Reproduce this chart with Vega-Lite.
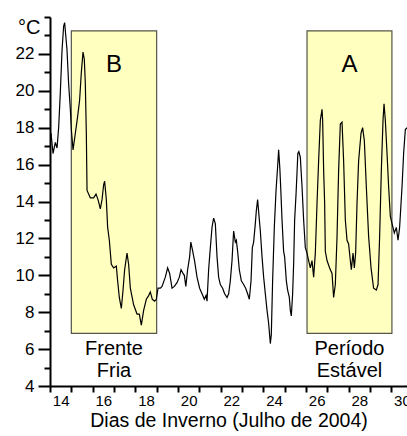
{
  "$schema": "https://vega.github.io/schema/vega-lite/v6.json",
  "width": 357,
  "height": 369,
  "autosize": "none",
  "padding": {"left": 50, "top": 17, "right": 0, "bottom": 50},
  "background": "white",
  "config": {
    "view": {"stroke": null},
    "font": "Liberation Sans",
    "axis": {
      "domainColor": "black",
      "domainWidth": 2,
      "tickColor": "black",
      "tickWidth": 2,
      "grid": false,
      "labelColor": "black",
      "labelFont": "Liberation Sans",
      "titleFont": "Liberation Sans",
      "titleColor": "black",
      "titleFontWeight": "normal"
    }
  },
  "datasets": {
    "boxes": [
      {"box": "B", "day": 14.5, "day_end": 18.5, "temp": 6.85, "temp_end": 23.25},
      {"box": "A", "day": 25.55, "day_end": 29.53, "temp": 6.85, "temp_end": 23.25}
    ],
    "temps": [
      {"day": 13.548, "temp": 17.7}, {"day": 13.642, "temp": 16.6}, {"day": 13.75, "temp": 17.2},
      {"day": 13.83, "temp": 16.9}, {"day": 13.905, "temp": 18.0}, {"day": 13.984, "temp": 19.9},
      {"day": 14.064, "temp": 22.2}, {"day": 14.139, "temp": 23.5}, {"day": 14.186, "temp": 23.7},
      {"day": 14.298, "temp": 22.2}, {"day": 14.373, "temp": 20.4}, {"day": 14.453, "temp": 19.0},
      {"day": 14.5, "temp": 17.9}, {"day": 14.58, "temp": 16.8}, {"day": 14.688, "temp": 17.7},
      {"day": 14.795, "temp": 18.6}, {"day": 14.889, "temp": 19.5}, {"day": 14.969, "temp": 21.0},
      {"day": 15.048, "temp": 22.1}, {"day": 15.109, "temp": 21.7}, {"day": 15.156, "temp": 20.4},
      {"day": 15.203, "temp": 17.7}, {"day": 15.236, "temp": 14.6}, {"day": 15.391, "temp": 14.2},
      {"day": 15.545, "temp": 14.2}, {"day": 15.658, "temp": 14.4}, {"day": 15.752, "temp": 14.1},
      {"day": 15.86, "temp": 13.6}, {"day": 15.939, "temp": 14.1}, {"day": 16.014, "temp": 14.9},
      {"day": 16.061, "temp": 15.1}, {"day": 16.141, "temp": 14.1}, {"day": 16.202, "temp": 12.6},
      {"day": 16.282, "temp": 11.9}, {"day": 16.375, "temp": 10.6}, {"day": 16.483, "temp": 10.4},
      {"day": 16.61, "temp": 10.5}, {"day": 16.671, "temp": 9.7}, {"day": 16.75, "temp": 8.8},
      {"day": 16.844, "temp": 8.2}, {"day": 16.924, "temp": 9.2}, {"day": 16.999, "temp": 10.3},
      {"day": 17.111, "temp": 11.2}, {"day": 17.186, "temp": 10.6}, {"day": 17.266, "temp": 9.3},
      {"day": 17.421, "temp": 8.4}, {"day": 17.58, "temp": 7.9}, {"day": 17.688, "temp": 7.9},
      {"day": 17.782, "temp": 7.3}, {"day": 17.89, "temp": 8.1}, {"day": 18.016, "temp": 8.7},
      {"day": 18.124, "temp": 8.9}, {"day": 18.204, "temp": 9.1}, {"day": 18.298, "temp": 8.7},
      {"day": 18.405, "temp": 8.6}, {"day": 18.485, "temp": 8.7}, {"day": 18.565, "temp": 9.3},
      {"day": 18.673, "temp": 9.3}, {"day": 18.752, "temp": 9.4}, {"day": 18.907, "temp": 9.9},
      {"day": 19.015, "temp": 10.4}, {"day": 19.109, "temp": 10.1}, {"day": 19.221, "temp": 9.3},
      {"day": 19.329, "temp": 9.4}, {"day": 19.455, "temp": 9.6}, {"day": 19.563, "temp": 9.9},
      {"day": 19.643, "temp": 10.3}, {"day": 19.737, "temp": 10.1}, {"day": 19.798, "temp": 10.0},
      {"day": 19.868, "temp": 9.4}, {"day": 19.952, "temp": 10.3}, {"day": 20.046, "temp": 11.0},
      {"day": 20.102, "temp": 11.8}, {"day": 20.173, "temp": 11.4}, {"day": 20.276, "temp": 10.8},
      {"day": 20.393, "temp": 9.9}, {"day": 20.515, "temp": 9.3}, {"day": 20.628, "temp": 9.0},
      {"day": 20.735, "temp": 8.7}, {"day": 20.815, "temp": 8.9}, {"day": 20.862, "temp": 8.6},
      {"day": 20.937, "temp": 10.3}, {"day": 21.017, "temp": 11.5}, {"day": 21.096, "temp": 12.6},
      {"day": 21.171, "temp": 13.1}, {"day": 21.251, "temp": 12.8}, {"day": 21.331, "temp": 11.0},
      {"day": 21.406, "temp": 9.9}, {"day": 21.485, "temp": 9.5}, {"day": 21.593, "temp": 9.3},
      {"day": 21.687, "temp": 9.0}, {"day": 21.8, "temp": 8.8}, {"day": 21.875, "temp": 9.0},
      {"day": 21.954, "temp": 9.7}, {"day": 22.034, "temp": 10.8}, {"day": 22.109, "temp": 12.4},
      {"day": 22.189, "temp": 11.8}, {"day": 22.236, "temp": 11.9}, {"day": 22.296, "temp": 11.3},
      {"day": 22.376, "temp": 10.3}, {"day": 22.47, "temp": 9.7}, {"day": 22.578, "temp": 9.5},
      {"day": 22.672, "temp": 9.3}, {"day": 22.765, "temp": 9.0}, {"day": 22.845, "temp": 8.7},
      {"day": 22.925, "temp": 9.7}, {"day": 22.986, "temp": 11.5}, {"day": 23.047, "temp": 11.8},
      {"day": 23.126, "temp": 12.8}, {"day": 23.173, "temp": 13.5}, {"day": 23.234, "temp": 14.1},
      {"day": 23.3, "temp": 13.2}, {"day": 23.361, "temp": 12.4}, {"day": 23.441, "temp": 11.0},
      {"day": 23.516, "temp": 9.9}, {"day": 23.595, "temp": 9.0}, {"day": 23.675, "temp": 8.1},
      {"day": 23.75, "temp": 7.4}, {"day": 23.83, "temp": 6.3}, {"day": 23.876, "temp": 6.8},
      {"day": 23.937, "temp": 9.7}, {"day": 24.017, "temp": 12.6}, {"day": 24.097, "temp": 14.6},
      {"day": 24.172, "temp": 15.9}, {"day": 24.219, "temp": 16.8}, {"day": 24.275, "temp": 15.8},
      {"day": 24.322, "temp": 14.6}, {"day": 24.378, "temp": 13.0}, {"day": 24.453, "temp": 11.3},
      {"day": 24.5, "temp": 11.0}, {"day": 24.58, "temp": 9.7}, {"day": 24.641, "temp": 9.2},
      {"day": 24.72, "temp": 8.8}, {"day": 24.767, "temp": 8.1}, {"day": 24.814, "temp": 7.8},
      {"day": 24.875, "temp": 9.0}, {"day": 24.922, "temp": 10.6}, {"day": 24.969, "temp": 13.0},
      {"day": 25.035, "temp": 14.4}, {"day": 25.082, "temp": 15.6}, {"day": 25.119, "temp": 16.6},
      {"day": 25.166, "temp": 16.7}, {"day": 25.236, "temp": 16.4}, {"day": 25.316, "temp": 14.8},
      {"day": 25.391, "temp": 13.0}, {"day": 25.47, "temp": 11.5}, {"day": 25.55, "temp": 11.2},
      {"day": 25.625, "temp": 10.8}, {"day": 25.705, "temp": 10.4}, {"day": 25.784, "temp": 10.8},
      {"day": 25.86, "temp": 9.9}, {"day": 25.939, "temp": 11.2}, {"day": 26.019, "temp": 13.9},
      {"day": 26.094, "temp": 16.2}, {"day": 26.174, "temp": 18.4}, {"day": 26.253, "temp": 19.0},
      {"day": 26.282, "temp": 18.4}, {"day": 26.329, "temp": 15.7}, {"day": 26.376, "temp": 13.9},
      {"day": 26.408, "temp": 11.3}, {"day": 26.488, "temp": 10.8}, {"day": 26.61, "temp": 10.4},
      {"day": 26.722, "temp": 10.1}, {"day": 26.797, "temp": 8.8}, {"day": 26.877, "temp": 9.5},
      {"day": 26.957, "temp": 12.1}, {"day": 27.032, "temp": 15.7}, {"day": 27.111, "temp": 18.2},
      {"day": 27.191, "temp": 18.3}, {"day": 27.266, "temp": 16.2}, {"day": 27.346, "temp": 13.0},
      {"day": 27.425, "temp": 11.9}, {"day": 27.5, "temp": 11.7}, {"day": 27.58, "temp": 10.8},
      {"day": 27.627, "temp": 10.3}, {"day": 27.707, "temp": 11.2}, {"day": 27.768, "temp": 10.4},
      {"day": 27.829, "temp": 11.2}, {"day": 27.894, "temp": 13.9}, {"day": 27.969, "temp": 16.2},
      {"day": 28.082, "temp": 17.7}, {"day": 28.157, "temp": 18.0}, {"day": 28.237, "temp": 17.3},
      {"day": 28.33, "temp": 14.8}, {"day": 28.438, "temp": 12.1}, {"day": 28.551, "temp": 10.4},
      {"day": 28.672, "temp": 9.3}, {"day": 28.799, "temp": 9.2}, {"day": 28.879, "temp": 9.5},
      {"day": 28.954, "temp": 12.1}, {"day": 29.034, "temp": 15.7}, {"day": 29.113, "temp": 18.4},
      {"day": 29.16, "temp": 19.3}, {"day": 29.221, "temp": 18.4}, {"day": 29.301, "temp": 16.6},
      {"day": 29.376, "temp": 14.8}, {"day": 29.455, "temp": 13.2}, {"day": 29.535, "temp": 12.8},
      {"day": 29.643, "temp": 12.3}, {"day": 29.737, "temp": 12.6}, {"day": 29.816, "temp": 11.9},
      {"day": 29.891, "temp": 12.6}, {"day": 30.004, "temp": 14.8}, {"day": 30.079, "temp": 16.6},
      {"day": 30.159, "temp": 17.9}, {"day": 30.239, "temp": 18.0}
    ],
    "letters": [
      {"text": "B", "day": 16.5, "temp": 21.0},
      {"text": "A", "day": 27.54, "temp": 21.0}
    ],
    "captions": [
      {"text": "Frente", "day": 16.5, "temp": 5.68},
      {"text": "Fria", "day": 16.5, "temp": 4.51},
      {"text": "Período", "day": 27.54, "temp": 5.68},
      {"text": "Estável", "day": 27.54, "temp": 4.51}
    ]
  },
  "encoding": {
    "x": {
      "field": "day", "type": "quantitative",
      "scale": {"domain": [13.5, 30.237], "nice": false, "zero": false},
      "axis": {
        "title": "Dias de Inverno (Julho de 2004)",
        "titleFontSize": 19.5,
        "titleY": 40,
        "titleBaseline": "alphabetic",
        "values": [13.5, 14.5, 15.5, 16.5, 17.5, 18.5, 19.5, 20.5, 21.5, 22.5, 23.5, 24.5, 25.5, 26.5, 27.5, 28.5, 29.5],
        "labelExpr": "(datum.value + 0.5) % 2 == 0 ? '' + (datum.value + 0.5) : ''",
        "labelOffset": 10.67,
        "labelFontSize": 15,
        "labelPadding": 1,
        "labelOverlap": false,
        "labelFlush": false,
        "labelBound": false,
        "tickSize": 6
      }
    },
    "y": {
      "field": "temp", "type": "quantitative",
      "scale": {"domain": [4, 24], "nice": false, "zero": false},
      "axis": {
        "title": null,
        "values": [4, 5, 6, 7, 8, 9, 10, 11, 12, 13, 14, 15, 16, 17, 18, 19, 20, 21, 22, 23, 24],
        "labelExpr": "datum.value == 24 ? '°C' : (datum.value % 2 == 0 ? '' + datum.value : '')",
        "labelFontSize": {"condition": {"test": "datum.value == 24", "value": 20}, "value": 17},
        "labelPadding": 4,
        "labelOverlap": false,
        "labelBound": false,
        "labelFlush": false,
        "labelBaseline": {"condition": {"test": "datum.value == 24", "value": "top"}, "value": "middle"},
        "tickSize": {"condition": {"test": "datum.value % 2 == 0 && datum.value != 24", "value": 12}, "value": 6}
      }
    }
  },
  "layer": [
    {
      "data": {"name": "boxes"},
      "mark": {"type": "rect", "fill": "#ffffc0", "stroke": "#555548", "strokeWidth": 1.2},
      "encoding": {
        "x2": {"field": "day_end"},
        "y2": {"field": "temp_end"}
      }
    },
    {
      "data": {"name": "temps"},
      "mark": {"type": "line", "color": "black", "strokeWidth": 1.2, "clip": true}
    },
    {
      "data": {"name": "letters"},
      "mark": {"type": "text", "fontSize": 24, "font": "Liberation Sans", "color": "black", "baseline": "alphabetic", "align": "center"},
      "encoding": {"text": {"field": "text"}}
    },
    {
      "data": {"name": "captions"},
      "mark": {"type": "text", "fontSize": 20, "font": "Liberation Sans", "color": "black", "baseline": "alphabetic", "align": "center"},
      "encoding": {"text": {"field": "text"}}
    }
  ]
}
